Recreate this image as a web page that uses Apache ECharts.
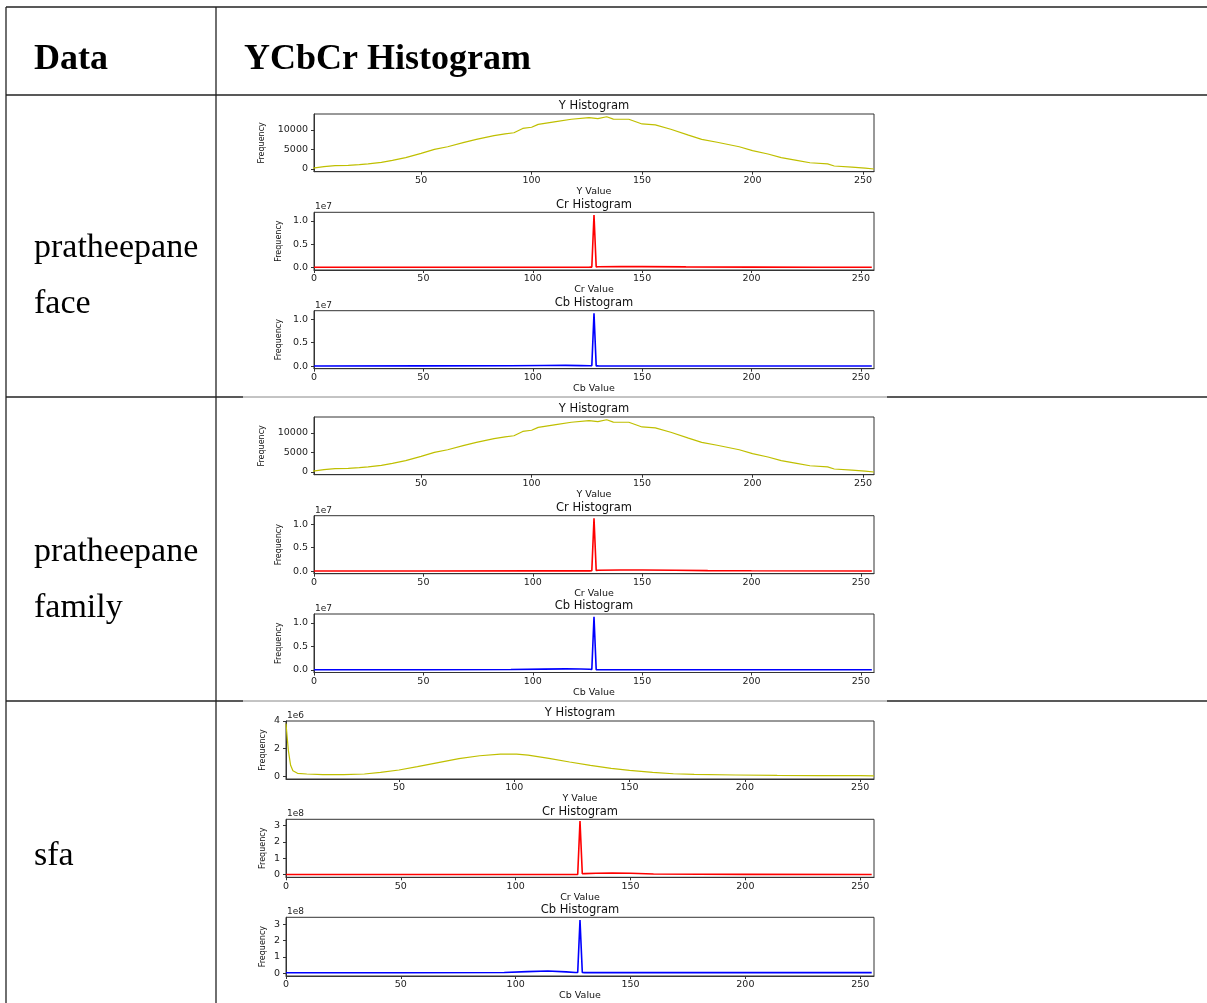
<!DOCTYPE html>
<html><head><meta charset="utf-8">
<script src="https://cdn.jsdelivr.net/npm/echarts@6/dist/echarts.min.js"></script>
<style>html,body{margin:0;padding:0;background:#fff}#c{width:1207px;height:1003px}</style>
</head><body><div id="c"></div>
<script>
// ---------- table text ----------
const headerLabels = ["Data", "YCbCr Histogram"];
const rowLabels = [["pratheepane", "face"], ["pratheepane", "family"], ["sfa"]];
const chartTitles = ["Y Histogram", "Cr Histogram", "Cb Histogram"];
const axisNames = ["Y Value", "Cr Value", "Cb Value"];
const yAxisName = "Frequency";
const xTicksFull = [0, 50, 100, 150, 200, 250];
const xTicksNoZero = [50, 100, 150, 200, 250];

// ---------- pratheepane face ----------
const faceY_x = [1, 6, 11, 17, 22, 26, 32, 37, 43, 50, 56, 62, 69, 75, 83, 88, 92, 96, 100, 103, 111, 118, 126, 130, 134, 137, 144, 150, 156, 163, 171, 177, 184, 194, 200, 207, 213, 220, 226, 234, 237, 245, 251, 255];
const faceY_v = [200, 600, 850, 950, 1100, 1300, 1700, 2200, 2900, 4000, 5050, 5700, 6750, 7600, 8550, 9000, 9300, 10400, 10700, 11450, 12150, 12750, 13150, 12900, 13400, 12800, 12750, 11550, 11300, 10200, 8700, 7600, 6850, 5700, 4700, 3850, 2900, 2200, 1600, 1300, 770, 500, 250, 0];
const faceCr_x = [0, 50, 100, 126, 127, 128, 129, 130, 140, 150, 170, 200, 230, 255];
const faceCr_v = [20000, 20000, 30000, 40000, 60000, 11300000, 100000, 120000, 150000, 150000, 100000, 50000, 30000, 20000];
const faceCb_x = [0, 50, 90, 105, 115, 122, 126, 127, 128, 129, 130, 150, 200, 255];
const faceCb_v = [20000, 30000, 60000, 120000, 150000, 100000, 60000, 60000, 11300000, 40000, 30000, 20000, 20000, 20000];

// ---------- pratheepane family ----------
const famY_x = [1, 6, 11, 17, 22, 26, 32, 37, 43, 50, 56, 62, 69, 75, 83, 88, 92, 96, 100, 103, 111, 118, 126, 130, 134, 137, 144, 150, 156, 163, 171, 177, 184, 194, 200, 207, 213, 220, 226, 234, 237, 245, 251, 255];
const famY_v = [200, 600, 850, 950, 1100, 1300, 1700, 2200, 2900, 4000, 5050, 5700, 6750, 7600, 8550, 9000, 9300, 10400, 10700, 11450, 12150, 12750, 13150, 12900, 13400, 12800, 12750, 11550, 11300, 10200, 8700, 7600, 6850, 5700, 4700, 3850, 2900, 2200, 1600, 1300, 770, 500, 250, 0];
const famCr_x = [0, 50, 100, 126, 127, 128, 129, 130, 140, 150, 165, 180, 200, 255];
const famCr_v = [20000, 20000, 30000, 40000, 60000, 11300000, 150000, 180000, 220000, 230000, 180000, 100000, 50000, 20000];
const famCb_x = [0, 50, 90, 105, 115, 122, 126, 127, 128, 129, 130, 150, 200, 255];
const famCb_v = [20000, 30000, 80000, 150000, 200000, 180000, 120000, 80000, 11300000, 40000, 30000, 20000, 20000, 20000];

// ---------- sfa ----------
const sfaY_x = [1, 2, 3, 4, 6, 10, 17, 26, 35, 42, 50, 58, 67, 76, 85, 94, 101, 106, 115, 124, 133, 142, 150, 160, 169, 178, 196, 214, 232, 250, 256];
const sfaY_v = [3810000, 1900000, 800000, 400000, 220000, 170000, 120000, 120000, 170000, 290000, 460000, 700000, 990000, 1280000, 1490000, 1610000, 1610000, 1540000, 1300000, 1040000, 800000, 580000, 430000, 290000, 190000, 140000, 100000, 70000, 60000, 50000, 40000];
const sfaCr_x = [0, 50, 100, 126, 127, 128, 129, 130, 135, 142, 150, 160, 180, 200, 255];
const sfaCr_v = [500000, 500000, 600000, 800000, 1000000, 329000000, 5000000, 6000000, 8000000, 10000000, 8000000, 4000000, 2000000, 1500000, 1000000];
const sfaCb_x = [0, 50, 95, 105, 114, 122, 126, 127, 128, 129, 130, 150, 200, 255];
const sfaCb_v = [3500000, 3500000, 5000000, 10000000, 14000000, 9000000, 5000000, 4500000, 325000000, 5000000, 4000000, 4000000, 4000000, 4000000];

const yTicksSmall = [0, 5000, 10000];
const yTicks1e7 = [0, 5000000, 10000000];
const yTicks1e6 = [0, 2000000, 4000000];
const yTicks1e8 = [0, 100000000, 200000000, 300000000];

const zip = (xs, vs) => xs.map((x, i) => [x, vs[i]]);

// ---------- panel layout ----------
const COL_Y = '#bfbf00', COL_R = '#ff0000', COL_B = '#0000ff';
const panels = [
  {k: 0, data: zip(faceY_x, faceY_v), color: COL_Y, left: 314, top: 114, w: 560, h: 57.7, xmin: 1.5, xmax: 255, ymin: -690, ymax: 14100, xt: xTicksNoZero, yt: yTicksSmall, div: 1, dec: 0, exp: null, fgap: 48},
  {k: 1, data: zip(faceCr_x, faceCr_v), color: COL_R, left: 314, top: 212.3, w: 560, h: 57.7, xmin: 0, xmax: 256, ymin: -570000, ymax: 11870000, xt: xTicksFull, yt: yTicks1e7, div: 1e7, dec: 1, exp: '1e7', fgap: 31},
  {k: 2, data: zip(faceCb_x, faceCb_v), color: COL_B, left: 314, top: 310.7, w: 560, h: 58, xmin: 0, xmax: 256, ymin: -570000, ymax: 11870000, xt: xTicksFull, yt: yTicks1e7, div: 1e7, dec: 1, exp: '1e7', fgap: 31},
  {k: 0, data: zip(famY_x, famY_v), color: COL_Y, left: 314, top: 417, w: 560, h: 57.7, xmin: 1.5, xmax: 255, ymin: -690, ymax: 14100, xt: xTicksNoZero, yt: yTicksSmall, div: 1, dec: 0, exp: null, fgap: 48},
  {k: 1, data: zip(famCr_x, famCr_v), color: COL_R, left: 314, top: 515.7, w: 560, h: 58, xmin: 0, xmax: 256, ymin: -570000, ymax: 11870000, xt: xTicksFull, yt: yTicks1e7, div: 1e7, dec: 1, exp: '1e7', fgap: 31},
  {k: 2, data: zip(famCb_x, famCb_v), color: COL_B, left: 314, top: 614, w: 560, h: 58.5, xmin: 0, xmax: 256, ymin: -570000, ymax: 11870000, xt: xTicksFull, yt: yTicks1e7, div: 1e7, dec: 1, exp: '1e7', fgap: 31},
  {k: 0, data: zip(sfaY_x, sfaY_v), color: COL_Y, left: 286, top: 721, w: 588, h: 58, xmin: 1, xmax: 256, ymin: -190000, ymax: 4000000, xt: xTicksNoZero, yt: yTicks1e6, div: 1e6, dec: 0, exp: '1e6', fgap: 19},
  {k: 1, data: zip(sfaCr_x, sfaCr_v), color: COL_R, left: 286, top: 819.3, w: 588, h: 58, xmin: 0, xmax: 256, ymin: -16400000, ymax: 339000000, xt: xTicksFull, yt: yTicks1e8, div: 1e8, dec: 0, exp: '1e8', fgap: 19},
  {k: 2, data: zip(sfaCb_x, sfaCb_v), color: COL_B, left: 286, top: 917.3, w: 588, h: 58.7, xmin: 0, xmax: 256, ymin: -16400000, ymax: 341000000, xt: xTicksFull, yt: yTicks1e8, div: 1e8, dec: 0, exp: '1e8', fgap: 19}
];

const FONT = 'DejaVu Sans';
const grid = [], xAxis = [], yAxis = [], series = [], title = [], graphic = [];
panels.forEach((p, i) => {
  grid.push({left: p.left, top: p.top, width: p.w, height: p.h, show: true, borderColor: '#333', borderWidth: 1, backgroundColor: '#fff', containLabel: false});
  xAxis.push({
    type: 'value', gridIndex: i, min: p.xmin, max: p.xmax,
    name: axisNames[p.k], nameLocation: 'middle', nameGap: 12,
    nameTextStyle: {fontFamily: FONT, fontSize: 9.5, color: '#111'},
    axisLine: {show: true, onZero: false, lineStyle: {color: '#333', width: 1}},
    axisTick: {show: true, length: 3, lineStyle: {color: '#333'}, customValues: p.xt},
    axisLabel: {fontFamily: FONT, fontSize: 9.5, color: '#222', margin: 4, customValues: p.xt, formatter: v => String(v)},
    splitLine: {show: false}
  });
  yAxis.push({
    type: 'value', gridIndex: i, min: p.ymin, max: p.ymax,
    name: yAxisName, nameLocation: 'middle', nameGap: p.fgap, nameRotate: 90,
    nameTextStyle: {fontFamily: FONT, fontSize: 8, color: '#111'},
    axisLine: {show: true, onZero: false, lineStyle: {color: '#333', width: 1}},
    axisTick: {show: true, length: 3, lineStyle: {color: '#333'}, customValues: p.yt},
    axisLabel: {fontFamily: FONT, fontSize: 9.5, color: '#222', margin: 6, customValues: p.yt,
      formatter: v => (v / p.div).toFixed(p.dec)},
    splitLine: {show: false}
  });
  series.push({
    type: 'line', xAxisIndex: i, yAxisIndex: i, data: p.data, showSymbol: false, symbol: 'none',
    lineStyle: {color: p.color, width: p.k === 0 ? 1.2 : 1.6}, itemStyle: {color: p.color},
    animation: false, clip: true
  });
  title.push({
    text: chartTitles[p.k], left: p.left + p.w / 2, top: p.top - 13.5, textAlign: 'center', padding: 0,
    textStyle: {fontFamily: FONT, fontSize: 11.5, fontWeight: 'normal', color: '#111'}
  });
  if (p.exp) {
    graphic.push({type: 'text', left: p.left + 1, top: p.top - 10,
      style: {text: p.exp, font: '9px "DejaVu Sans"', fill: '#222'}});
  }
});

// ---------- table lines & text ----------
const LC = '#222';
const hline = (x1, x2, y, c, w) => ({type: 'line', shape: {x1, y1: y, x2, y2: y}, style: {stroke: c, lineWidth: w}, z: 100});
const vline = (x, y1, y2) => ({type: 'line', shape: {x1: x, y1, x2: x, y2}, style: {stroke: LC, lineWidth: 1.3}, z: 100});
graphic.push(hline(6, 1207, 7, LC, 1.3));
graphic.push(hline(6, 1207, 95, LC, 1.3));
graphic.push(hline(6, 243, 397, LC, 1.3), hline(243, 887, 397, '#888', 1), hline(887, 1207, 397, LC, 1.3));
graphic.push(hline(6, 243, 701, LC, 1.3), hline(243, 887, 701, '#888', 1), hline(887, 1207, 701, LC, 1.3));
graphic.push(vline(6, 7, 1003), vline(216, 7, 1003));

const SERIF_B = 'bold 36px "Liberation Serif"';
const SERIF = '34px "Liberation Serif"';
graphic.push({type: 'text', left: 34, top: 42, style: {text: headerLabels[0], font: SERIF_B, fill: '#000'}, z: 100});
graphic.push({type: 'text', left: 244, top: 42, style: {text: headerLabels[1], font: SERIF_B, fill: '#000'}, z: 100});
const rowTextTops = [[231, 287], [535, 591], [839]];
rowLabels.forEach((lines, r) => {
  lines.forEach((t, j) => {
    graphic.push({type: 'text', left: 34, top: rowTextTops[r][j], style: {text: t, font: SERIF, fill: '#000'}, z: 100});
  });
});

const chart = echarts.init(document.getElementById('c'), null, {renderer: 'canvas'});
chart.setOption({backgroundColor: '#fff', animation: false, grid, xAxis, yAxis, series, title, graphic});
</script>
</body></html>
